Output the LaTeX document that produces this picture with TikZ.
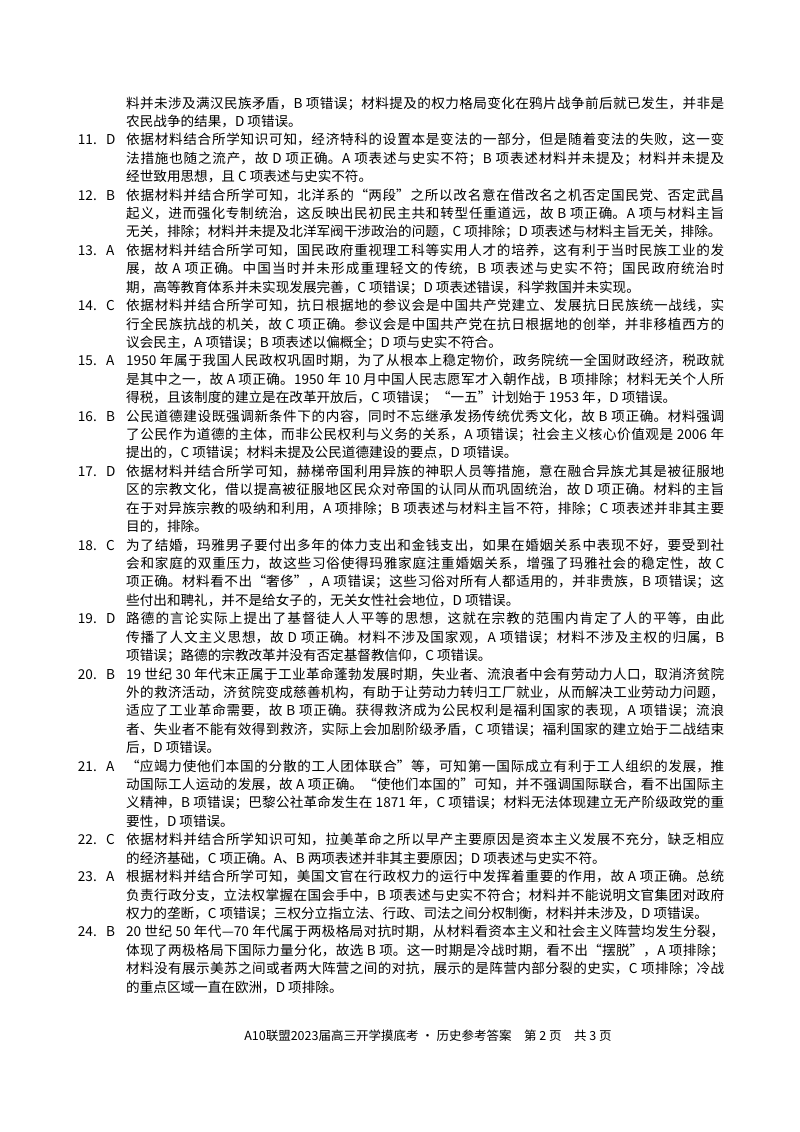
\documentclass[tikz,border=0pt]{standalone}
\usepackage{fontspec}
\setmainfont{Noto Sans CJK SC}
\XeTeXlinebreaklocale "zh"
\XeTeXlinebreakskip=0pt plus 1.5pt minus 0.5pt
\newcommand\itembody[1]{\parbox[t]{598pt}{\fontsize{13.6}{18.42}\selectfont\tolerance=10000\hbadness=10000\emergencystretch=5pt #1}}
\tikzset{body/.style={anchor=base west,inner sep=0pt},
 num/.style={anchor=base east,inner sep=0pt,font=\fontsize{13.6}{16}\selectfont},
 ans/.style={anchor=base west,inner sep=0pt,font=\fontsize{13.6}{16}\selectfont}}
\newcommand\qitem[5]{%
 \node[num] (n#1) at (97,{108+18.42*#3}) {#1.};
 \node[ans] (a#1) at (106,{108+18.42*#3}) {#2};
 \node[body] (b#1) at (126,{108+18.42*#3}) {\itembody{#4}};}
\begin{document}
\begin{tikzpicture}[x=1pt,y=-1pt]
\useasboundingbox (0,0) rectangle (800,1132);
\fill[white] (0,0) rectangle (800,1132);
\node[body] (intro) at (126,108) {\itembody{料并未涉及满汉民族矛盾，B 项错误；材料提及的权力格局变化在鸦片战争前后就已发生，并非是\linebreak 农民战争的结果，D 项错误。}};
\qitem{11}{D}{2}{依据材料结合所学知识可知，经济特科的设置本是变法的一部分，但是随着变法的失败，这一变\linebreak 法措施也随之流产，故 D 项正确。A 项表述与史实不符；B 项表述材料并未提及；材料并未提及\linebreak 经世致用思想，且 C 项表述与史实不符。}{}
\qitem{12}{B}{5}{依据材料并结合所学可知，北洋系的“两段”之所以改名意在借改名之机否定国民党、否定武昌\linebreak 起义，进而强化专制统治，这反映出民初民主共和转型任重道远，故 B 项正确。A 项与材料主旨\linebreak 无关，排除；材料并未提及北洋军阀干涉政治的问题，C 项排除；D 项表述与材料主旨无关，排除。}{}
\qitem{13}{A}{8}{依据材料并结合所学可知，国民政府重视理工科等实用人才的培养，这有利于当时民族工业的发\linebreak 展，故 A 项正确。中国当时并未形成重理轻文的传统，B 项表述与史实不符；国民政府统治时\linebreak 期，高等教育体系并未实现发展完善，C 项错误；D 项表述错误，科学救国并未实现。}{}
\qitem{14}{C}{11}{依据材料并结合所学可知，抗日根据地的参议会是中国共产党建立、发展抗日民族统一战线，实\linebreak 行全民族抗战的机关，故 C 项正确。参议会是中国共产党在抗日根据地的创举，并非移植西方的\linebreak 议会民主，A 项错误；B 项表述以偏概全；D 项与史实不符合。}{}
\qitem{15}{A}{14}{1950 年属于我国人民政权巩固时期，为了从根本上稳定物价，政务院统一全国财政经济，税政就\linebreak 是其中之一，故 A 项正确。1950 年 10 月中国人民志愿军才入朝作战，B 项排除；材料无关个人所\linebreak 得税，且该制度的建立是在改革开放后，C 项错误；“一五”计划始于 1953 年，D 项错误。}{}
\qitem{16}{B}{17}{公民道德建设既强调新条件下的内容，同时不忘继承发扬传统优秀文化，故 B 项正确。材料强调\linebreak 了公民作为道德的主体，而非公民权利与义务的关系，A 项错误；社会主义核心价值观是 2006 年\linebreak 提出的，C 项错误；材料未提及公民道德建设的要点，D 项错误。}{}
\qitem{17}{D}{20}{依据材料并结合所学可知，赫梯帝国利用异族的神职人员等措施，意在融合异族尤其是被征服地\linebreak 区的宗教文化，借以提高被征服地区民众对帝国的认同从而巩固统治，故 D 项正确。材料的主旨\linebreak 在于对异族宗教的吸纳和利用，A 项排除；B 项表述与材料主旨不符，排除；C 项表述并非其主要\linebreak 目的，排除。}{}
\qitem{18}{C}{24}{为了结婚，玛雅男子要付出多年的体力支出和金钱支出，如果在婚姻关系中表现不好，要受到社\linebreak 会和家庭的双重压力，故这些习俗使得玛雅家庭注重婚姻关系，增强了玛雅社会的稳定性，故 C\linebreak 项正确。材料看不出“奢侈”，A 项错误；这些习俗对所有人都适用的，并非贵族，B 项错误；这\linebreak 些付出和聘礼，并不是给女子的，无关女性社会地位，D 项错误。}{}
\qitem{19}{D}{28}{路德的言论实际上提出了基督徒人人平等的思想，这就在宗教的范围内肯定了人的平等，由此\linebreak 传播了人文主义思想，故 D 项正确。材料不涉及国家观，A 项错误；材料不涉及主权的归属，B\linebreak 项错误；路德的宗教改革并没有否定基督教信仰，C 项错误。}{}
\qitem{20}{B}{31}{19 世纪 30 年代末正属于工业革命蓬勃发展时期，失业者、流浪者中会有劳动力人口，取消济贫院\linebreak 外的救济活动，济贫院变成慈善机构，有助于让劳动力转归工厂就业，从而解决工业劳动力问题，\linebreak 适应了工业革命需要，故 B 项正确。获得救济成为公民权利是福利国家的表现，A 项错误；流浪\linebreak 者、失业者不能有效得到救济，实际上会加剧阶级矛盾，C 项错误；福利国家的建立始于二战结束\linebreak 后，D 项错误。}{}
\qitem{21}{A}{36}{“应竭力使他们本国的分散的工人团体联合”等，可知第一国际成立有利于工人组织的发展，推\linebreak 动国际工人运动的发展，故 A 项正确。“使他们本国的”可知，并不强调国际联合，看不出国际主\linebreak 义精神，B 项错误；巴黎公社革命发生在 1871 年，C 项错误；材料无法体现建立无产阶级政党的重\linebreak 要性，D 项错误。}{}
\qitem{22}{C}{40}{依据材料并结合所学知识可知，拉美革命之所以早产主要原因是资本主义发展不充分，缺乏相应\linebreak 的经济基础，C 项正确。A、B 两项表述并非其主要原因；D 项表述与史实不符。}{}
\qitem{23}{A}{42}{根据材料并结合所学可知，美国文官在行政权力的运行中发挥着重要的作用，故 A 项正确。总统\linebreak 负责行政分支，立法权掌握在国会手中，B 项表述与史实不符合；材料并不能说明文官集团对政府\linebreak 权力的垄断，C 项错误；三权分立指立法、行政、司法之间分权制衡，材料并未涉及，D 项错误。}{}
\qitem{24}{B}{45}{20 世纪 50 年代—70 年代属于两极格局对抗时期，从材料看资本主义和社会主义阵营均发生分裂，\linebreak 体现了两极格局下国际力量分化，故选 B 项。这一时期是冷战时期，看不出“摆脱”，A 项排除；\linebreak 材料没有展示美苏之间或者两大阵营之间的对抗，展示的是阵营内部分裂的史实，C 项排除；冷战\linebreak 的重点区域一直在欧洲，D 项排除。}{}
\node[anchor=base,inner sep=0pt,font=\fontsize{12.5}{14}\selectfont] (footer) at (428,1040) {A10联盟2023届高三开学摸底考 · 历史参考答案\quad 第 2 页\quad 共 3 页};
\end{tikzpicture}
\end{document}
